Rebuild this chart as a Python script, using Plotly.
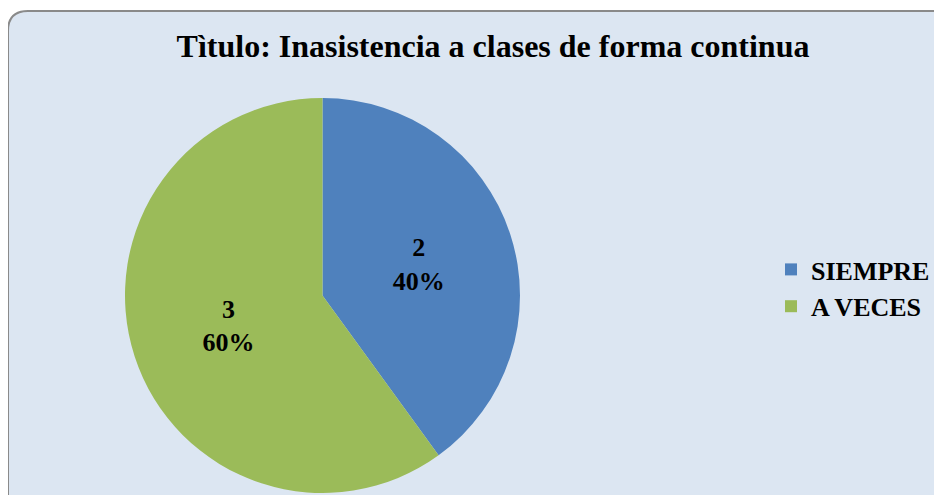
import plotly.graph_objects as go

categories = ["SIEMPRE", "A VECES"]
values = [2, 3]
colors = ["#4f81bd", "#9bbb59"]
title_text = "Tìtulo: Inasistencia a clases de forma continua"

W, H = 942, 495
serif = "Liberation Serif"

def fx(v):
    return v / W

def fy(v):
    return 1 - v / H

fig = go.Figure(go.Pie(
    labels=categories,
    values=values,
    sort=False,
    direction="clockwise",
    rotation=0,
    marker=dict(colors=colors, line=dict(width=0)),
    texttemplate="%{value}<br>%{percent:.0%}",
    textposition="inside",
    insidetextorientation="horizontal",
    textfont=dict(family=serif, size=26, color="black", weight="bold"),
    domain=dict(x=[fx(117), fx(512)], y=[fy(485), fy(90)]),
    hoverinfo="label+value+percent",
))

# rounded background frame (page offset compensated)
x0, y0, x1, y1, r = 0, 3, 960, 520, 20
segs = [
    ("M", [(x0 + r, y0)]),
    ("L", [(x1 - r, y0)]),
    ("Q", [(x1, y0), (x1, y0 + r)]),
    ("L", [(x1, y1 - r)]),
    ("Q", [(x1, y1), (x1 - r, y1)]),
    ("L", [(x0 + r, y1)]),
    ("Q", [(x0, y1), (x0, y1 - r)]),
    ("L", [(x0, y0 + r)]),
    ("Q", [(x0, y0), (x0 + r, y0)]),
]
path = " ".join(cmd + " " + " ".join(f"{fx(a):.5f},{fy(b):.5f}" for a, b in ps)
                for cmd, ps in segs) + " Z"

fig.add_shape(type="path", xref="paper", yref="paper", path=path,
              fillcolor="#dce6f2", line=dict(color="#8a8a8a", width=2),
              layer="below")

fig.update_layout(
    width=W, height=H,
    margin=dict(l=0, r=0, t=0, b=0),
    paper_bgcolor="white",
    showlegend=True,
    title=dict(text=f"<b>{title_text}</b>", x=fx(485), xanchor="center",
               y=fy(38), yanchor="middle",
               font=dict(family=serif, size=32, color="black")),
    legend=dict(x=fx(763), y=fy(280), xanchor="left", yanchor="middle",
                font=dict(family=serif, size=26, color="black", weight="bold"),
                bgcolor="rgba(0,0,0,0)", itemwidth=30),
)

fig.write_html("out.html")
